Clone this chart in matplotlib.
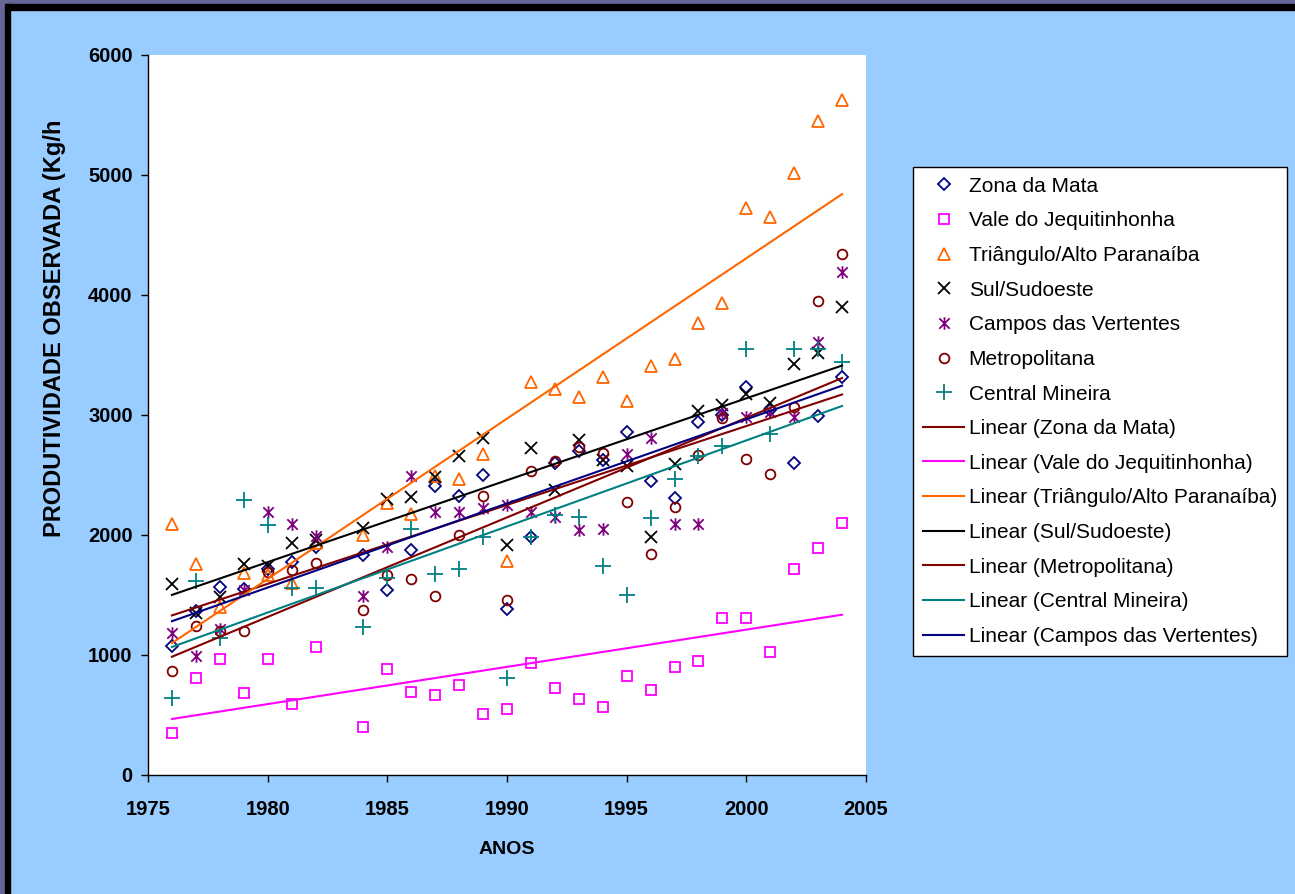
import numpy as np
import matplotlib
matplotlib.use("Agg")
import matplotlib.pyplot as plt
from matplotlib.path import Path
from matplotlib.patches import Rectangle

plt.rcParams['font.family'] = ['Liberation Sans', 'DejaVu Sans']

years = [1976, 1977, 1978, 1979, 1980, 1981, 1982, 1984, 1985, 1986, 1987, 1988, 1989, 1990,
         1991, 1992, 1993, 1994, 1995, 1996, 1997, 1998, 1999, 2000, 2001, 2002, 2003, 2004]

zona_da_mata = [1078, 1369, 1569, 1550, 1720, 1772, 1903, 1833, 1542, 1875, 2408, 2325, 2500, 1381,
                1986, 2597, 2700, 2625, 2856, 2452, 2311, 2944, 3000, 3230, 3040, 2597, 2991, 3319]
vale_jequitinhonha = [347, 811, 969, 680, 969, 592, 1069, 403, 880, 692, 664, 750, 505, 547,
                      930, 722, 633, 564, 825, 708, 897, 952, 1305, 1305, 1027, 1714, 1894, 2097]
triangulo = [2089, 1758, 1403, 1681, 1667, 1597, 1930, 2000, 2264, 2172, 2490, 2464, 2672, 1783,
             3275, 3217, 3150, 3319, 3116, 3411, 3466, 3770, 3930, 4728, 4653, 5014, 5450, 5625]
sul_sudoeste = [1589, 1350, 1486, 1756, 1744, 1931, 1958, 2056, 2300, 2319, 2486, 2658, 2806, 1917,
                2728, 2375, 2790, 2625, 2577, 1986, 2589, 3036, 3083, 3175, 3097, 3425, 3514, 3903]
campos_vertentes = [1181, 992, 1214, 1542, 2194, 2092, 1992, 1492, 1903, 2494, 2194, 2189, 2228, 2250,
                    2189, 2153, 2042, 2047, 2675, 2805, 2091, 2091, 3014, 2986, 3028, 2986, 3605, 4189]
metropolitana = [867, 1244, 1203, 1203, 1694, 1708, 1764, 1375, 1667, 1633, 1492, 2000, 2328, 1458,
                 2533, 2619, 2736, 2681, 2272, 1839, 2230, 2666, 2975, 2633, 2505, 3069, 3950, 4342]
central_mineira = [644, 1617, 1139, 2292, 2083, 1561, 1556, 1230, 1644, 2050, 1672, 1714, 1986, 811,
                   1986, 2170, 2153, 1744, 1500, 2139, 2466, 2661, 2744, 3550, 2841, 3550, 3550, 3444]

x_ticks = [1975, 1980, 1985, 1990, 1995, 2000, 2005]
y_ticks = [0, 1000, 2000, 3000, 4000, 5000, 6000]

asterisk = Path([(-1, -1), (1, 1), (-1, 1), (1, -1), (0, -1.2), (0, 1.2)],
                [Path.MOVETO, Path.LINETO, Path.MOVETO, Path.LINETO, Path.MOVETO, Path.LINETO])

series = [
    ("Zona da Mata", zona_da_mata, 'D', 6.3, '#000080', '#800000'),
    ("Vale do Jequitinhonha", vale_jequitinhonha, 's', 6.5, '#FF00FF', '#FF00FF'),
    ("Triângulo/Alto Paranaíba", triangulo, '^', 8, '#FF6600', '#FF6600'),
    ("Sul/Sudoeste", sul_sudoeste, 'x', 8, '#000000', '#000000'),
    ("Campos das Vertentes", campos_vertentes, asterisk, 9, '#800080', '#000080'),
    ("Metropolitana", metropolitana, 'o', 7, '#800000', '#800000'),
    ("Central Mineira", central_mineira, '+', 11, '#008080', '#008080'),
]

W, H = 1295, 894
fig = plt.figure(figsize=(W / 100, H / 100), dpi=100)
fig.patch.set_facecolor('#99CCFF')
# frame strips (top and left)
fig.add_artist(Rectangle((0, 1 - 4 / H), 1, 4 / H, transform=fig.transFigure, color='#666699', zorder=0))
fig.add_artist(Rectangle((0, 1 - 10 / H), 1, 6 / H, transform=fig.transFigure, color='#000000', zorder=0))
fig.add_artist(Rectangle((0, 0), 5 / W, 1, transform=fig.transFigure, color='#666699', zorder=0))
fig.add_artist(Rectangle((5 / W, 0), 5 / W, 1 - 4 / H, transform=fig.transFigure, color='#000000', zorder=0))

ax = fig.add_axes([148 / W, 1 - 775 / H, (866 - 148) / W, (775 - 55) / H])
ax.set_facecolor('white')

yrs = np.array(years, dtype=float)
handles_pts = []
for name, vals, mk, ms, mc, lc in series:
    h = ax.plot(yrs, vals, linestyle='none', marker=mk, markersize=ms,
                markerfacecolor='none', markeredgecolor=mc, markeredgewidth=1.3,
                color=mc, label=name, zorder=3, clip_on=False)[0]
    handles_pts.append(h)

trend_order = ["Zona da Mata", "Vale do Jequitinhonha", "Triângulo/Alto Paranaíba", "Sul/Sudoeste",
               "Metropolitana", "Central Mineira", "Campos das Vertentes"]
lookup = {s[0]: s for s in series}
handles_lines = []
xx = np.array([years[0], years[-1]], dtype=float)
for name in trend_order:
    _, vals, _, _, _, lc = lookup[name]
    b, a = np.polyfit(yrs, np.array(vals, dtype=float), 1)
    h = ax.plot(xx, a + b * xx, color=lc, linewidth=1.5, zorder=4,
                label=f"Linear ({name})")[0]
    handles_lines.append(h)

ax.set_xlim(1975, 2005)
ax.set_ylim(0, 6000)
ax.set_xticks(x_ticks)
ax.set_yticks(y_ticks)
ax.set_xticklabels([str(t) for t in x_ticks], fontsize=14.5, fontweight='bold')
ax.set_yticklabels([str(t) for t in y_ticks], fontsize=14.5, fontweight='bold')
ax.tick_params(axis='x', direction='out', length=5, width=1, color='black', pad=13)
ax.tick_params(axis='y', direction='out', length=5, width=1, color='black', pad=6)
for s in ['top', 'right']:
    ax.spines[s].set_visible(False)
for s in ['left', 'bottom']:
    ax.spines[s].set_color('black')
    ax.spines[s].set_linewidth(1)

ax.set_xlabel("ANOS", fontsize=14, fontweight='bold', labelpad=16)
ax.set_ylabel("PRODUTIVIDADE OBSERVADA (Kg/h", fontsize=17, fontweight='bold')
ax.yaxis.set_label_coords(-0.114, 0.621)

leg = fig.legend(handles=handles_pts + handles_lines, loc='upper left',
                 bbox_to_anchor=(913 / W, 1 - 167 / H), bbox_transform=fig.transFigure,
                 fontsize=15, frameon=True, fancybox=False, shadow=False,
                 numpoints=1, handlelength=2.0, handletextpad=0.2, labelspacing=0.75,
                 borderpad=0.47, borderaxespad=0)
leg.get_frame().set_edgecolor('black')
leg.get_frame().set_linewidth(1)
leg.get_frame().set_facecolor('white')
leg.get_frame().set_alpha(1)

fig.savefig("out.png", dpi=100, facecolor=fig.get_facecolor())
